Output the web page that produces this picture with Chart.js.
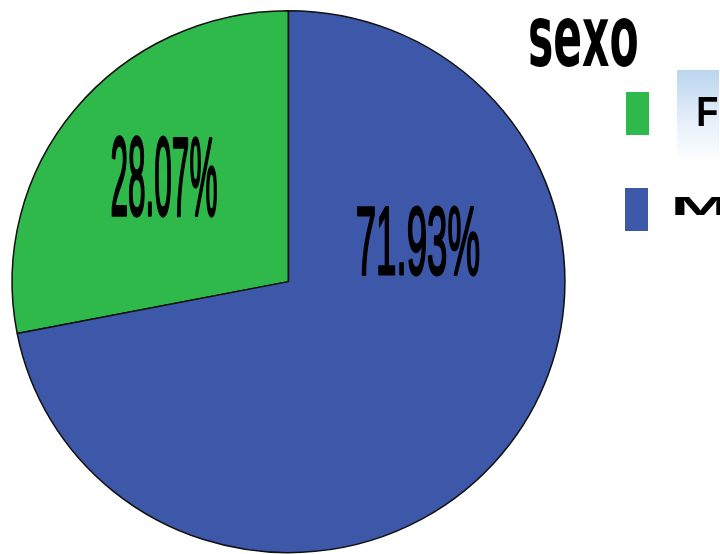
<!DOCTYPE html>
<html>
<head>
<meta charset="utf-8">
<script src="https://cdn.jsdelivr.net/npm/chart.js@4.4.1/dist/chart.umd.min.js"></script>
<style>
  html, body { margin: 0; padding: 0; background: #fff; }
  #wrap { position: relative; width: 720px; height: 554px; overflow: hidden; }
</style>
</head>
<body>
<div id="wrap"><canvas id="pieChart" width="720" height="554"></canvas></div>
<script>
// data
const categories = ['F', 'M'];
const percents = [28.07, 71.93];
const sliceColors = ['#2fb94a', '#3d57a9'];
const legendTitle = 'sexo';

// text boxes (center x/y offsets from pie center, width, height) for the slice labels
const labelBoxes = [
    { dx: -124, dy: -106, w: 105, h: 78 },
    { dx: 130, dy: -42, w: 122, h: 68 }
];

// draw text squeezed/stretched into a box
function drawFitted(ctx, text, x, y, w, h, font, align, stroke) {
    ctx.save();
    ctx.font = font;
    const m = ctx.measureText(text);
    const tw = m.actualBoundingBoxLeft + m.actualBoundingBoxRight;
    const th = m.actualBoundingBoxAscent + m.actualBoundingBoxDescent;
    ctx.translate(x, y);
    ctx.scale(w / tw, h / th);
    ctx.textAlign = 'left';
    ctx.textBaseline = 'alphabetic';
    let left = align === 'left' ? 0 : -tw / 2;
    const tx = left + m.actualBoundingBoxLeft;
    const ty = (m.actualBoundingBoxAscent - m.actualBoundingBoxDescent) / 2;
    ctx.fillText(text, tx, ty);
    if (stroke) {
        ctx.lineWidth = stroke;
        ctx.lineJoin = 'round';
        ctx.strokeStyle = ctx.fillStyle;
        ctx.strokeText(text, tx, ty);
    }
    ctx.restore();
}

// the original pie is a touch wider than tall
const widenPie = {
    id: 'widenPie',
    beforeDatasetsDraw(chart) {
        const arc = chart.getDatasetMeta(0).data[0];
        const ctx = chart.ctx;
        ctx.save();
        ctx.translate(arc.x, arc.y);
        ctx.scale(1.02, 1);
        ctx.translate(-arc.x, -arc.y);
    },
    afterDatasetsDraw(chart) {
        chart.ctx.restore();
    }
};

const sliceLabels = {
    id: 'sliceLabels',
    afterDatasetsDraw(chart) {
        const ctx = chart.ctx;
        const arc = chart.getDatasetMeta(0).data[0];
        ctx.fillStyle = '#000';
        percents.forEach((v, i) => {
            const b = labelBoxes[i];
            drawFitted(ctx, v.toFixed(2) + '%', arc.x + b.dx, arc.y + b.dy, b.w, b.h,
                '40px "Liberation Sans Narrow", "Liberation Sans", Arial, sans-serif', 'center', 1.2);
        });
    }
};

const sideLegend = {
    id: 'sideLegend',
    afterDraw(chart) {
        const ctx = chart.ctx;
        ctx.save();
        // title
        ctx.fillStyle = '#000';
        drawFitted(ctx, legendTitle, 530, 42.5, 107, 51,
            'bold 40px "DejaVu Sans", "Liberation Sans", Arial, sans-serif', 'left');

        // shaded box behind first label
        const g = ctx.createLinearGradient(0, 70, 0, 163);
        g.addColorStop(0, '#bad5ef');
        g.addColorStop(0.55, '#e6effa');
        g.addColorStop(1, '#ffffff');
        ctx.fillStyle = g;
        ctx.fillRect(677, 70, 42, 93);

        // swatches
        ctx.fillStyle = sliceColors[0];
        ctx.fillRect(626, 92, 23, 43);
        ctx.fillStyle = sliceColors[1];
        ctx.fillRect(625, 188, 23, 43);

        ctx.fillStyle = '#000';
        drawFitted(ctx, categories[0], 698, 111, 19, 30,
            'bold 40px "Liberation Sans", Arial, sans-serif', 'left');
        drawFitted(ctx, categories[1], 674, 206, 52, 18,
            'bold 40px "Liberation Sans", Arial, sans-serif', 'left');
        ctx.restore();
    }
};

const total = percents.reduce((a, b) => a + b, 0);

new Chart(document.getElementById('pieChart'), {
    type: 'pie',
    data: {
        labels: categories,
        datasets: [{
            data: percents,
            backgroundColor: sliceColors,
            borderColor: '#111',
            borderWidth: 1.5
        }]
    },
    options: {
        responsive: false,
        animation: false,
        // first slice ends at 12 o'clock
        rotation: -360 * percents[0] / total,
        layout: { padding: { left: 16.75, right: 159.75, top: 9.25, bottom: 0 } },
        plugins: {
            legend: { display: false },
            tooltip: { enabled: false }
        }
    },
    plugins: [widenPie, sliceLabels, sideLegend]
});
</script>
</body>
</html>
